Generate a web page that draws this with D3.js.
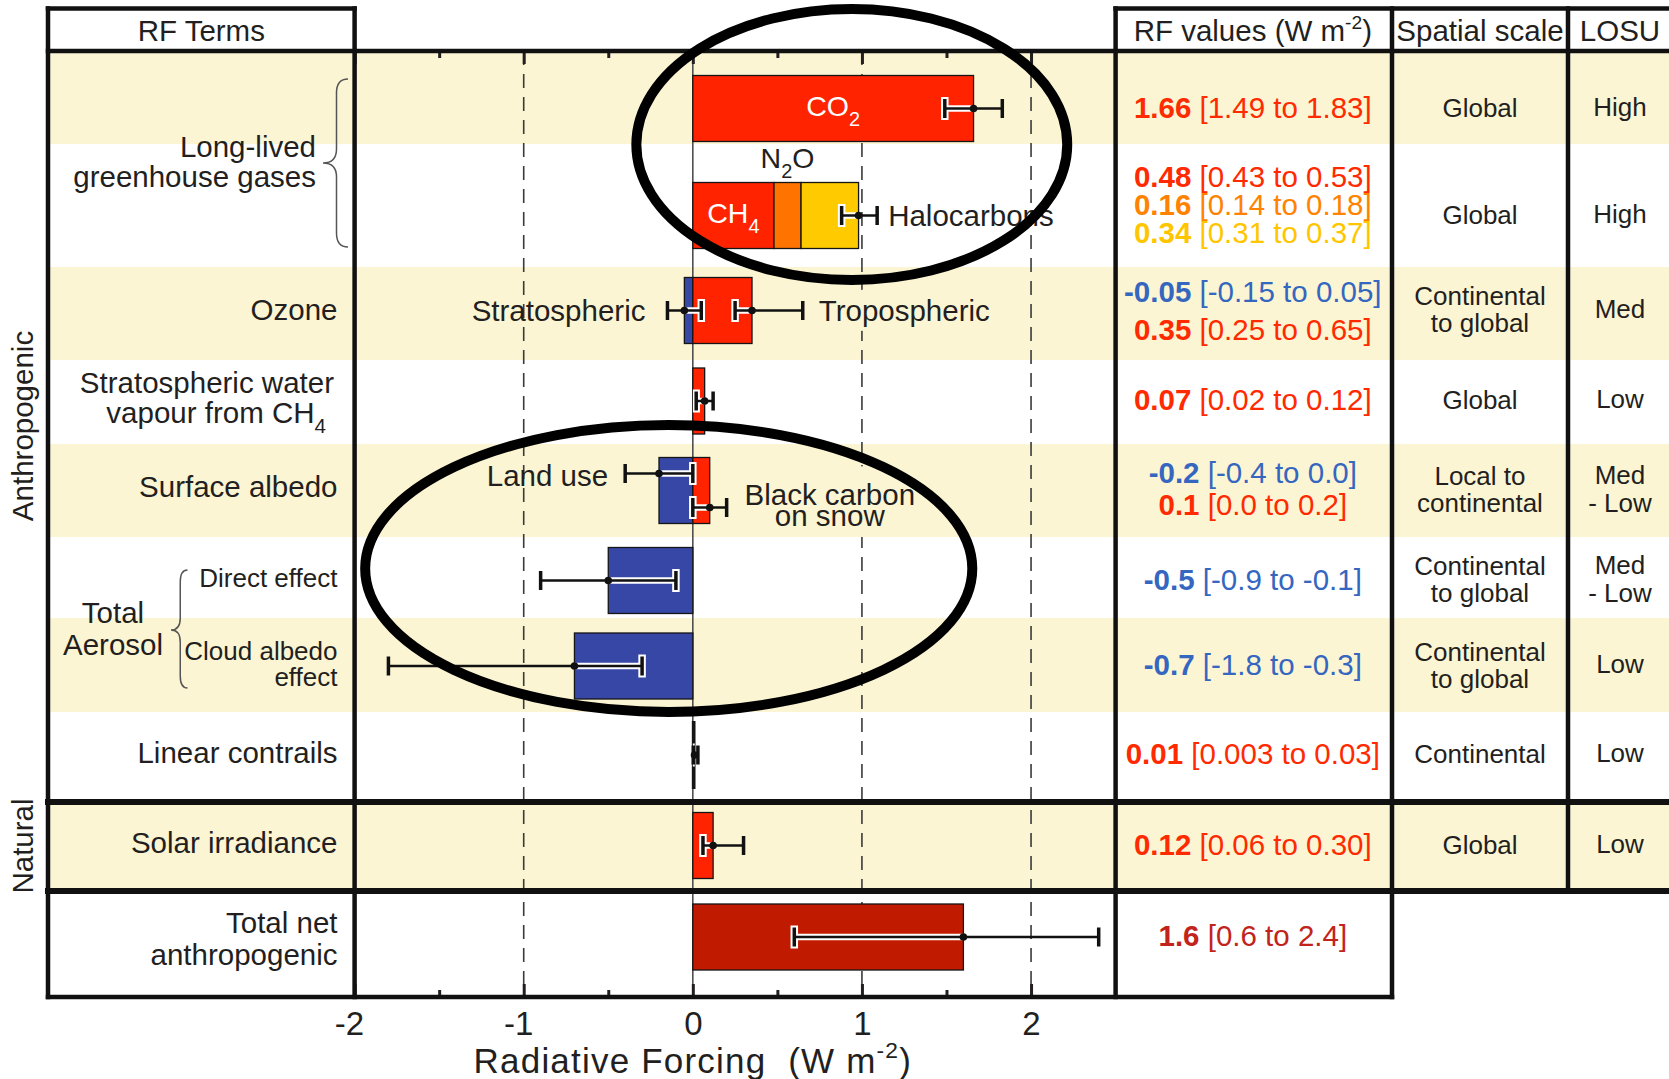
<!DOCTYPE html>
<html>
<head>
<meta charset="utf-8">
<script src="https://cdnjs.cloudflare.com/ajax/libs/d3/7.8.5/d3.min.js"></script>
<style>
  html, body { margin: 0; padding: 0; background: #fff; }
  svg { display: block; font-family: "Liberation Sans", Arial, Helvetica, sans-serif; }
  svg text { white-space: pre; }
</style>
</head>
<body>
<svg id="chart" width="1669" height="1079"></svg>
<script>
// ---------------- data ----------------
const components = ["CO2", "CH4", "N2O", "Halocarbons", "Stratospheric ozone", "Tropospheric ozone",
  "Stratospheric water vapour from CH4", "Surface albedo: land use", "Surface albedo: black carbon on snow",
  "Aerosol direct effect", "Aerosol cloud albedo effect", "Linear contrails", "Solar irradiance",
  "Total net anthropogenic"];
const componentRow  = [0, 1, 1, 1, 2, 2, 3, 4, 4, 5, 6, 7, 8, 9];
const componentKind = ["pos", "pos", "n2o", "halo", "neg", "pos", "pos", "neg", "pos", "neg", "neg", "pos", "pos", "total"];
const bestText = ["1.66", "0.48", "0.16", "0.34", "-0.05", "0.35", "0.07", "-0.2", "0.1", "-0.5", "-0.7", "0.01", "0.12", "1.6"];
const lowText  = ["1.49", "0.43", "0.14", "0.31", "-0.15", "0.25", "0.02", "-0.4", "0.0", "-0.9", "-1.8", "0.003", "0.06", "0.6"];
const highText = ["1.83", "0.53", "0.18", "0.37", "0.05", "0.65", "0.12", "0.0", "0.2", "-0.1", "-0.3", "0.03", "0.30", "2.4"];
// combined range for the CH4 + N2O + halocarbons stack
const llghgRange = [0.88, 1.09];

const spatialScale = [["Global"], ["Global"], ["Continental", "to global"], ["Global"], ["Local to", "continental"],
  ["Continental", "to global"], ["Continental", "to global"], ["Continental"], ["Global"]];
const losu = [["High"], ["High"], ["Med"], ["Low"], ["Med", "- Low"], ["Med", "- Low"], ["Low"], ["Low"], ["Low"]];

const majorTicks = [-2, -1, 0, 1, 2];
const minorTicks = [-1.5, -0.5, 0.5, 1.5];
const dashedAt = [-1, 1, 2];

const best = bestText.map(Number);
const low = lowText.map(Number);
const high = highText.map(Number);

// ---------------- layout ----------------
const W = 1669;
const col = { left: 48, labels: 354.6, values: 1115.6, spatial: 1392, losu: 1568, right: 1669 };
const yHeadTop = 8.5, yHeadBottom = 51;
const rowHeights = [93, 123, 93, 84, 93, 81, 94, 90, 89, 106];
const barShift = [11, 10, -3, -1, 0, 3, 1, -2, -1, -7];
const barH = 66;
const rowTop = [];
let yAcc = yHeadBottom;
rowHeights.forEach(h => { rowTop.push(yAcc); yAcc += h; });
const yBottom = yAcc;
const barY = r => rowTop[r] + rowHeights[r] / 2 + barShift[r];

const INK = "#231f20";
const BAND = "#fbf5d3";
const FS = 29.5, FS_SMALL = 26;
const barColor = { pos: "#ff2300", n2o: "#ff7400", halo: "#ffcb00", neg: "#3747a6", total: "#c01b00" };
const valueColor = { pos: "#ff2a00", n2o: "#ff8200", halo: "#ffc600", neg: "#3566c0", total: "#c2231a" };

const x = d3.scaleLinear().domain([-2, 2.5]).range([col.labels, col.values]);

const svg = d3.select("#chart");

// rich text helper: parts = [[text, mode]] with mode "", "sub", "sup", "b"
function rich(sel, parts, size) {
  let shift = 0;
  parts.forEach(([t, mode]) => {
    const ts = sel.append("tspan").text(t);
    let target = 0;
    if (mode === "sub") { ts.attr("font-size", size * 0.7); target = size * 0.32; }
    else if (mode === "sup") { ts.attr("font-size", size * 0.65); target = -size * 0.42; }
    else if (mode === "b") ts.attr("font-weight", "bold");
    if (target !== shift) { ts.attr("dy", target - shift); shift = target; }
  });
  return sel;
}
function label(g, parts, px, py, opts = {}) {
  const size = opts.size || FS;
  const t = g.append("text")
    .attr("x", px).attr("y", py).attr("dy", "0.35em")
    .attr("text-anchor", opts.anchor || "middle")
    .attr("font-size", size)
    .attr("fill", opts.fill || INK);
  return rich(t, parts, size);
}

// ---------------- background bands ----------------
const gBands = svg.append("g");
rowHeights.forEach((h, r) => {
  if (r % 2 === 0 && r < 9) {
    gBands.append("rect").attr("x", col.left).attr("y", rowTop[r])
      .attr("width", W - col.left).attr("height", h).attr("fill", BAND);
  }
});

// ---------------- reference lines ----------------
const gRef = svg.append("g");
gRef.selectAll("line.dash").data(dashedAt).join("line")
  .attr("x1", d => x(d)).attr("x2", d => x(d))
  .attr("y1", yHeadBottom).attr("y2", yBottom)
  .attr("stroke", "#3a3a3a").attr("stroke-width", 1.6).attr("stroke-dasharray", "14,9");
gRef.append("line").attr("x1", x(0)).attr("x2", x(0)).attr("y1", yHeadBottom).attr("y2", yBottom)
  .attr("stroke", "#444").attr("stroke-width", 1.5);

// ---------------- plot annotation labels (with knockouts) ----------------
const gPlotLab = svg.append("g");
function knockout(nodes, fill, padX, padY, row) {
  const boxes = nodes.map(n => n.getBBox());
  const x0 = d3.min(boxes, b => b.x) - padX, x1 = d3.max(boxes, b => b.x + b.width) + padX;
  const y0 = Math.max(rowTop[row], d3.min(boxes, b => b.y) - padY);
  const y1 = Math.min(rowTop[row] + rowHeights[row], d3.max(boxes, b => b.y + b.height) + padY);
  gPlotLab.insert("rect", ":first-child").attr("x", x0).attr("y", y0)
    .attr("width", x1 - x0).attr("height", y1 - y0).attr("fill", fill);
}

// ---------------- bars ----------------
const bars = components.map((name, i) => ({ name, i, row: componentRow[i], v: best[i], lo: low[i], hi: high[i], kind: componentKind[i] }));
const stackEnd = {};
bars.forEach(b => {
  const key = b.row + (b.v < 0 ? "n" : "p");
  const s = stackEnd[key] || 0;
  b.x0 = s; b.x1 = s + b.v; stackEnd[key] = b.x1;
});

const defs = svg.append("defs");
const clip = defs.append("clipPath").attr("id", "barClip");
bars.forEach(b => {
  clip.append("rect")
    .attr("x", x(Math.min(b.x0, b.x1))).attr("y", barY(b.row) - barH / 2)
    .attr("width", Math.abs(x(b.x1) - x(b.x0))).attr("height", barH);
});

const gBars = svg.append("g");
gBars.selectAll("rect").data(bars).join("rect")
  .attr("x", d => x(Math.min(d.x0, d.x1)))
  .attr("y", d => barY(d.row) - barH / 2)
  .attr("width", d => Math.abs(x(d.x1) - x(d.x0)))
  .attr("height", barH)
  .attr("fill", d => barColor[d.kind])
  .attr("stroke", "#151515")
  .attr("stroke-width", d => Math.abs(x(d.x1) - x(d.x0)) < 4 ? 2 : 1.3);

// ---------------- error bars ----------------
const errShift = { 7: -17, 8: 17 };
const errs = bars.filter(b => b.row !== 1).map(b => ({ y: barY(b.row) + (errShift[b.i] || 0), v: b.v, lo: b.lo, hi: b.hi }));
errs.push({ y: barY(1), v: stackEnd["1p"], lo: llghgRange[0], hi: llghgRange[1] });

const capH = 19;
const gHalo = svg.append("g").attr("clip-path", "url(#barClip)");
errs.forEach(e => {
  gHalo.append("line").attr("x1", x(e.lo)).attr("x2", x(e.hi)).attr("y1", e.y).attr("y2", e.y)
    .attr("stroke", "#fff").attr("stroke-width", 6.5);
  [e.lo, e.hi].forEach(c => gHalo.append("line").attr("x1", x(c)).attr("x2", x(c))
    .attr("y1", e.y - capH / 2 - 2).attr("y2", e.y + capH / 2 + 2)
    .attr("stroke", "#fff").attr("stroke-width", 7.5));
});
const gErr = svg.append("g");
errs.forEach(e => {
  gErr.append("line").attr("x1", x(e.lo)).attr("x2", x(e.hi)).attr("y1", e.y).attr("y2", e.y)
    .attr("stroke", "#111").attr("stroke-width", 2.5);
  [e.lo, e.hi].forEach(c => gErr.append("line").attr("x1", x(c)).attr("x2", x(c))
    .attr("y1", e.y - capH / 2).attr("y2", e.y + capH / 2)
    .attr("stroke", "#111").attr("stroke-width", 3.5));
  gErr.append("circle").attr("cx", x(e.v)).attr("cy", e.y).attr("r", 3.8).attr("fill", "#111");
});

// labels placed on and around the bars
const xMid = b => x((b.x0 + b.x1) / 2);
const gOnBars = svg.append("g");
label(gOnBars, [["CO", ""], ["2", "sub"]], xMid(bars[0]), barY(0) - 2, { fill: "#fff", size: 28.5 });
label(gOnBars, [["CH", ""], ["4", "sub"]], xMid(bars[1]), barY(1) - 2, { fill: "#fff", size: 28.5 });
label(gPlotLab, [["N", ""], ["2", "sub"], ["O", ""]], xMid(bars[2]), barY(1) - barH / 2 - 24, { size: 28.5 });
label(gPlotLab, [["Halocarbons", ""]], x(llghgRange[1]) + 11, barY(1), { anchor: "start" });
label(gPlotLab, [["Stratospheric", ""]], x(low[4]) - 22, barY(2), { anchor: "end" });
const tropo = label(gPlotLab, [["Tropospheric", ""]], x(high[5]) + 16, barY(2), { anchor: "start" });
knockout([tropo.node()], BAND, 4, 4, 2);
label(gPlotLab, [["Land use", ""]], x(low[7]) - 17, barY(4) - 14.5, { anchor: "end" });
const bc1 = label(gPlotLab, [["Black carbon", ""]], x(0.81), barY(4) + 4.5);
const bc2 = label(gPlotLab, [["on snow", ""]], x(0.81), barY(4) + 25);
knockout([bc1.node(), bc2.node()], BAND, 6, 12, 4);

// ---------------- axes ----------------
function styleAxis(g, size) {
  g.attr("font-family", null).attr("font-size", null);
  g.select(".domain").remove();
  g.selectAll(".tick line").attr("stroke", INK).attr("stroke-width", 3);
  g.selectAll(".tick text").attr("fill", INK).attr("font-size", size);
}
svg.append("g").attr("transform", `translate(0,${yBottom})`)
  .call(d3.axisBottom(x).tickValues(majorTicks).tickSize(-13).tickPadding(15).tickFormat(d => String(d)))
  .call(g => styleAxis(g, 33))
  .call(g => g.selectAll(".tick text").attr("dx", d => d < 0 ? "-0.17em" : 0));
svg.append("g").attr("transform", `translate(0,${yBottom})`)
  .call(d3.axisBottom(x).tickValues(minorTicks).tickSize(-7).tickFormat(""))
  .call(g => styleAxis(g, 33));
svg.append("g").attr("transform", `translate(0,${yHeadBottom})`)
  .call(d3.axisTop(x).tickValues(majorTicks).tickSize(-13).tickFormat(""))
  .call(g => styleAxis(g, 33));
svg.append("g").attr("transform", `translate(0,${yHeadBottom})`)
  .call(d3.axisTop(x).tickValues(minorTicks).tickSize(-7).tickFormat(""))
  .call(g => styleAxis(g, 33));

const title = svg.append("text").attr("x", x(0)).attr("y", 1073).attr("text-anchor", "middle")
  .attr("font-size", 35).attr("letter-spacing", 1.2).attr("fill", INK);
rich(title, [["Radiative Forcing  (W m", ""], ["-2", "sup"], [")", ""]], 35);

// ---------------- term labels ----------------
const gTerms = svg.append("g");
const termLabels = [
  { lines: [[["Long-lived", ""]], [["greenhouse gases", ""]]], x: 316, y: [147, 177], anchor: "end" },
  { lines: [[["Ozone", ""]]], x: 337.5, y: [310], anchor: "end" },
  { lines: [[["Stratospheric water", ""]]], x: 334, y: [383], anchor: "end" },
  { lines: [[["vapour from CH", ""], ["4", "sub"]]], x: 326, y: [413], anchor: "end" },
  { lines: [[["Surface albedo", ""]]], x: 337.5, y: [487], anchor: "end" },
  { lines: [[["Direct effect", ""]]], x: 337.5, y: [578], anchor: "end", size: FS_SMALL },
  { lines: [[["Cloud albedo", ""]], [["effect", ""]]], x: 337.5, y: [651, 677], anchor: "end", size: FS_SMALL },
  { lines: [[["Total", ""]], [["Aerosol", ""]]], x: 113, y: [613, 645], anchor: "middle" },
  { lines: [[["Linear contrails", ""]]], x: 337.5, y: [753], anchor: "end" },
  { lines: [[["Solar irradiance", ""]]], x: 337.5, y: [843], anchor: "end" },
  { lines: [[["Total net", ""]], [["anthropogenic", ""]]], x: 337.5, y: [923, 955], anchor: "end" }
];
termLabels.forEach(t => t.lines.forEach((parts, k) =>
  label(gTerms, parts, t.x, t.y[k], { anchor: t.anchor, size: t.size || FS })));

// braces
function brace(xTip, xEnd, yTop, yMid, yBot, r) {
  const xs = (xTip + xEnd) / 2 + 1;
  return `M${xEnd},${yTop} Q${xs},${yTop} ${xs},${yTop + r} L${xs},${yMid - r} Q${xs},${yMid} ${xTip},${yMid}` +
    ` Q${xs},${yMid} ${xs},${yMid + r} L${xs},${yBot - r} Q${xs},${yBot} ${xEnd},${yBot}`;
}
gTerms.append("path").attr("d", brace(323, 348, 79, 163, 247, 14))
  .attr("fill", "none").attr("stroke", "#555").attr("stroke-width", 1.5);
gTerms.append("path").attr("d", brace(171, 187.5, 570, 630, 688, 12))
  .attr("fill", "none").attr("stroke", "#555").attr("stroke-width", 1.5);

// group titles
[["Anthropogenic", 426], ["Natural", 846]].forEach(([t, cy]) => {
  svg.append("text").attr("transform", `translate(33,${cy}) rotate(-90)`)
    .attr("text-anchor", "middle").attr("font-size", FS).attr("fill", INK).text(t);
});

// ---------------- value / scale / LOSU columns ----------------
const gCols = svg.append("g");
const valueLayout = { 1: { gap: 28, shift: -10.5 }, 2: { gap: 38, shift: 0 }, 4: { gap: 32, shift: -1.5 } };
const xValues = (col.values + col.spatial) / 2 - 1;
d3.range(10).forEach(r => {
  const items = bars.filter(b => b.row === r);
  const lay = valueLayout[r] || { gap: 0, shift: -1 };
  items.forEach((b, k) => {
    const yy = barY(r) + lay.shift + (k - (items.length - 1) / 2) * lay.gap;
    label(gCols, [[bestText[b.i], "b"], [` [${lowText[b.i]} to ${highText[b.i]}]`, ""]], xValues, yy,
      { fill: valueColor[b.kind] });
  });
});
const xSpatial = (col.spatial + col.losu) / 2;
const xLosu = 1620;
spatialScale.forEach((lines, r) => lines.forEach((t, k) =>
  label(gCols, [[t, ""]], xSpatial, barY(r) - 1 + (k - (lines.length - 1) / 2) * 27, { size: FS_SMALL })));
losu.forEach((lines, r) => lines.forEach((t, k) =>
  label(gCols, [[t, ""]], xLosu, barY(r) - 2 + (k - (lines.length - 1) / 2) * 28, { size: FS_SMALL })));

// headers
const yHead = (yHeadTop + yHeadBottom) / 2 + 1;
label(svg, [["RF Terms", ""]], (col.left + col.labels) / 2, yHead);
label(svg, [["RF values (W m", ""], ["-2", "sup"], [")", ""]], xValues, yHead);
label(svg, [["Spatial scale", ""]], xSpatial, yHead);
label(svg, [["LOSU", ""]], xLosu, yHead);

// ---------------- table frame ----------------
const gFrame = svg.append("g").attr("stroke", "#111").attr("stroke-linecap", "square").attr("fill", "none");
const hline = (x1, x2, y, w) => gFrame.append("line").attr("x1", x1).attr("x2", x2).attr("y1", y).attr("y2", y).attr("stroke-width", w);
const vline = (xx, y1, y2, w) => gFrame.append("line").attr("x1", xx).attr("x2", xx).attr("y1", y1).attr("y2", y2).attr("stroke-width", w);
hline(col.left, col.labels, yHeadTop, 4.5);
hline(col.values, W + 5, yHeadTop, 4.5);
hline(col.left, W + 5, yHeadBottom, 4.5);
hline(col.left, W + 5, rowTop[8], 6);
hline(col.left, W + 5, rowTop[9], 6);
hline(col.left, col.spatial, yBottom, 4.5);
vline(col.left, yHeadTop, yBottom, 4.5);
vline(col.labels, yHeadTop, yBottom, 4.5);
vline(col.values, yHeadTop, yBottom, 4.5);
vline(col.spatial, yHeadTop, yBottom, 4.5);
vline(col.losu, yHeadTop, rowTop[9], 4.5);

// ---------------- highlight ellipses ----------------
const gAnn = svg.append("g").attr("fill", "none").attr("stroke", "#000").attr("stroke-width", 10);
gAnn.append("ellipse").attr("cx", x(0.94)).attr("cy", rowTop[1] + 0.5)
  .attr("rx", x(0.94 + 1.274) - x(0.94)).attr("ry", 135.5);
gAnn.append("ellipse").attr("cx", x(-0.1425)).attr("cy", 568.5)
  .attr("rx", x(-0.1425 + 1.795) - x(-0.1425)).attr("ry", 143.5);
</script>
</body>
</html>
